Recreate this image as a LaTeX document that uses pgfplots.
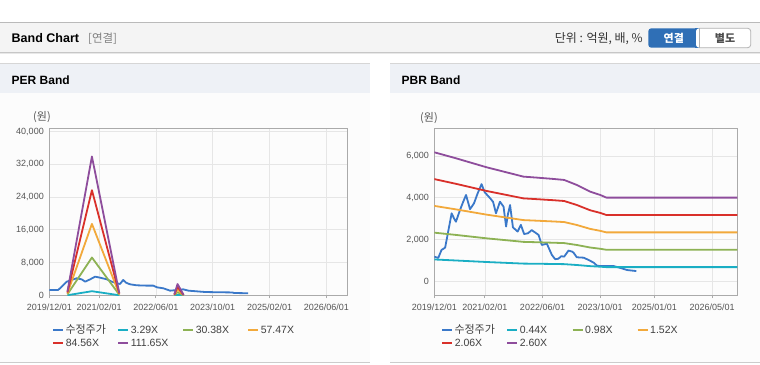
\documentclass[border=0pt]{standalone}
\usepackage{pgfplots}
\pgfplotsset{compat=1.18}
\usepackage{fontspec}
\setmainfont{Liberation Sans}
\newfontfamily\kr{Noto Sans CJK KR}
\definecolor{pricec}{HTML}{3A78C9}
\definecolor{tealc}{HTML}{1AAEC4}
\definecolor{greenc}{HTML}{8DB254}
\definecolor{orangec}{HTML}{F2A93B}
\definecolor{redc}{HTML}{D9302A}
\definecolor{purplec}{HTML}{8E4D9C}
\definecolor{barbg}{HTML}{F4F4F4}
\definecolor{headbg}{HTML}{EEF1F6}
\definecolor{bodybg}{HTML}{FCFCFC}
\definecolor{btnblue}{HTML}{2F6FB6}
\definecolor{txtgray}{HTML}{555555}
\definecolor{gridc}{HTML}{E6E6E6}
\definecolor{axc}{HTML}{AAAAAA}

\pgfplotstableread{
m price
0 1300
2.5 1300
3.5 2100
4.9 3330
6.3 3740
7.7 4150
9.1 3900
10.1 3330
11.5 3900
12.9 4550
14.3 4300
16.2 3900
17.6 3330
19 2930
19.9 2770
20.8 3740
21.6 3080
22.7 2690
24.6 2440
27.4 2360
29.3 2360
30.3 1950
32.1 1710
34 1130
35.5 1250
37.7 1460
39.2 1130
43.9 800
48.6 730
51.5 700
52 560
56 500
}\perprice

\pgfplotstableread{
m a b c d e
5.1 26 243 460 676 893
12 998 9220 17442 25664 33886
19.7 16 152 287 423 558
28 nan nan nan nan nan
35.2 7 61 115 169 223
36.1 81 750 1420 2089 2758
37.8 3 30 57 85 112
}\perbands

\pgfplotstableread{
m price
0 1180
0.5 1150
1.1 1120
2.0 1500
3.0 1610
3.6 2150
4.2 2700
4.8 3250
5.5 3000
6.0 2850
7.1 3400
8.0 3800
8.8 4130
9.9 3450
11.0 3730
12.0 4200
13.1 4650
14.0 4250
14.4 4180
15.5 3970
16.3 3800
17.1 3250
18.2 3810
19.2 3570
19.9 2620
20.4 3200
21.0 3650
21.8 2580
23.1 2380
24.0 2700
24.9 2260
26.0 2300
27.0 2450
28.0 2330
28.9 2220
29.8 1740
31.2 1800
32.6 1260
33.5 1060
34.4 1080
35.2 1200
36.0 1180
36.5 1300
37.2 1470
38.2 1420
38.6 1370
39.5 1150
41.4 1130
42.8 1020
44.2 890
45.1 750
46.0 730
49.7 730
52.0 620
53.4 540
56.0 490
}\pbrprice

\pgfplotstableread{
m a b c d e
0 1045 2327 3608 4890 6172
6 996 2219 3441 4664 5886
14.5 923 2056 3189 4322 5455
24.7 847 1887 2928 3968 5008
28.4 840 1870 2900 3930 4961
33.1 829 1845 2862 3879 4896
36 821 1828 2835 3842 4849
39.5 780 1738 2695 3652 4610
43.2 726 1617 2508 3399 4290
46 699 1557 2415 3273 4131
47.7 678 1509 2341 3172 4004
84 678 1509 2341 3172 4004
}\pbrbands

\pgfplotsset{
  bandaxis/.style={
    scale only axis,
    anchor=south west,
    xmin=0, xmax=84,
    grid=major,
    grid style={draw=gridc, line width=0.6pt},
    axis line style={draw=axc, line width=1pt},
    tick style={draw=axc, line width=0.8pt},
    ytick style={draw=none},
    xtick align=outside,
    major tick length=3pt,
    tick label style={font=\fontsize{9}{10}\selectfont, text=txtgray},
    /pgf/number format/assume math mode=true,
    /pgf/number format/1000 sep={,},
    scaled y ticks=false,
    xtick pos=bottom,
    ytick pos=left,
    yticklabel style={xshift=-2pt},
    xticklabel style={yshift=-2pt},
    unbounded coords=jump,
    every axis plot/.append style={line width=1.8pt, line join=round, no markers},
  }
}

\begin{document}
\begin{tikzpicture}[x=1pt,y=1pt]
\fill[white] (0,0) rectangle (760,364);
% top bar
\fill[barbg] (0,311.3) rectangle (760,341.5);
\draw[color=black!27, line width=0.9pt] (0,341.5) -- (760,341.5);
\draw[color=black!22, line width=0.9pt] (0,311.3) -- (760,311.3);
\draw[color=black!9, line width=1pt] (0,310.3) -- (760,310.3);
\node[anchor=west, inner sep=0pt, font=\bfseries\fontsize{12.5}{14}\selectfont] at (11.5,325.5) {Band Chart};
\node[anchor=west, inner sep=0pt, text=black!50, font=\kr\fontsize{11.5}{13}\selectfont] at (88,325.5) {[연결]};
\node[anchor=east, inner sep=0pt, text=black!80, font=\kr\fontsize{12}{13}\selectfont] at (643,325.5) {단위 : 억원, 배, \%};
\fill[btnblue, rounded corners=3pt] (648.3,316.3) rectangle (703,335.7);
\fill[btnblue] (695,316.3) rectangle (699.3,335.7);
\fill[white, rounded corners=3pt] (696,316.3) rectangle (750.7,335.7);
\fill[white] (699.3,316.3) rectangle (703,335.7);
\draw[black!30, line width=0.8pt, rounded corners=3pt] (699.3,316.3) -- (750.7,316.3) -- (750.7,335.7) -- (699.3,335.7);
\draw[black!30, line width=0.8pt] (699.3,316.3) -- (699.3,335.7);
\node[text=white, font=\kr\bfseries\fontsize{11}{12}\selectfont] at (673.8,326) {연결};
\node[text=black!70, font=\kr\bfseries\fontsize{11}{12}\selectfont] at (725,326) {별도};
% panels
\foreach \xa/\xb in {0/370, 390/760} {
  \fill[bodybg] (\xa,1.5) rectangle (\xb,271.3);
  \fill[headbg] (\xa,271.3) rectangle (\xb,300);
  \draw[black!16, line width=1pt] (\xa,300) -- (\xb,300);
  \draw[black!20, line width=1.2pt] (\xa,1.3) -- (\xb,1.3);
}
\node[anchor=west, inner sep=0pt, font=\bfseries\fontsize{12}{14}\selectfont] at (11.5,284) {PER Band};
\node[anchor=west, inner sep=0pt, font=\bfseries\fontsize{12}{14}\selectfont] at (401.5,284) {PBR Band};
\node[anchor=west, inner sep=0pt, text=txtgray, font=\kr\fontsize{11}{12}\selectfont] at (33,247) {(원)};
\node[anchor=west, inner sep=0pt, text=txtgray, font=\kr\fontsize{11}{12}\selectfont] at (420,246) {(원)};

% PER axis
\begin{axis}[bandaxis, at={(49.3pt,68.7pt)}, width=298.4pt, height=166.3pt,
  ymin=0, ymax=40600,
  ytick={0,8000,16000,24000,32000,40000},
  xtick={0,14,30,46,62,78},
  xticklabels={2019/12/01,2021/02/01,2022/06/01,2023/10/01,2025/02/01,2026/06/01}]
\addplot[pricec] table[x=m,y=price] {\perprice};
\addplot[tealc] table[x=m,y=a] {\perbands};
\addplot[greenc] table[x=m,y=b] {\perbands};
\addplot[orangec] table[x=m,y=c] {\perbands};
\addplot[redc] table[x=m,y=d] {\perbands};
\addplot[purplec] table[x=m,y=e] {\perbands};
\end{axis}

% PBR axis
\begin{axis}[bandaxis, at={(434.3pt,69pt)}, width=303pt, height=166.7pt,
  ymin=-655, ymax=7320,
  ytick={0,2000,4000,6000},
  xtick={0,14,30,46,61,77},
  xticklabels={2019/12/01,2021/02/01,2022/06/01,2023/10/01,2025/01/01,2026/05/01}]
\addplot[pricec] table[x=m,y=price] {\pbrprice};
\addplot[tealc] table[x=m,y=a] {\pbrbands};
\addplot[greenc] table[x=m,y=b] {\pbrbands};
\addplot[orangec] table[x=m,y=c] {\pbrbands};
\addplot[redc] table[x=m,y=d] {\pbrbands};
\addplot[purplec] table[x=m,y=e] {\pbrbands};
\end{axis}

% legends
\def\legfont{\fontsize{10.5}{12}\selectfont}
% left legend
\begin{scope}[shift={(53.3pt,0pt)}]
  \draw[pricec, line width=2.2pt] (0,34) -- (10,34);
  \node[anchor=west, inner sep=0pt, text=black!75, font=\kr\fontsize{11}{12}\selectfont] at (12,34.5) {수정주가};
  \draw[tealc, line width=2.2pt] (65,34) -- (75,34);
  \node[anchor=west, inner sep=0pt, text=black!75, font=\legfont] at (77.3,34) {3.29X};
  \draw[greenc, line width=2.2pt] (130,34) -- (140,34);
  \node[anchor=west, inner sep=0pt, text=black!75, font=\legfont] at (142.3,34) {30.38X};
  \draw[orangec, line width=2.2pt] (195,34) -- (205,34);
  \node[anchor=west, inner sep=0pt, text=black!75, font=\legfont] at (207.3,34) {57.47X};
  \draw[redc, line width=2.2pt] (0,20.7) -- (10,20.7);
  \node[anchor=west, inner sep=0pt, text=black!75, font=\legfont] at (12.3,20.7) {84.56X};
  \draw[purplec, line width=2.2pt] (65,20.7) -- (75,20.7);
  \node[anchor=west, inner sep=0pt, text=black!75, font=\legfont] at (77.3,20.7) {111.65X};
\end{scope}
% right legend
\begin{scope}[shift={(442.3pt,0pt)}]
  \draw[pricec, line width=2.2pt] (0,34) -- (10,34);
  \node[anchor=west, inner sep=0pt, text=black!75, font=\kr\fontsize{11}{12}\selectfont] at (12,34.5) {수정주가};
  \draw[tealc, line width=2.2pt] (65,34) -- (75,34);
  \node[anchor=west, inner sep=0pt, text=black!75, font=\legfont] at (77.3,34) {0.44X};
  \draw[greenc, line width=2.2pt] (130.4,34) -- (140.4,34);
  \node[anchor=west, inner sep=0pt, text=black!75, font=\legfont] at (142.7,34) {0.98X};
  \draw[orangec, line width=2.2pt] (195.4,34) -- (205.4,34);
  \node[anchor=west, inner sep=0pt, text=black!75, font=\legfont] at (207.7,34) {1.52X};
  \draw[redc, line width=2.2pt] (0,20.7) -- (10,20.7);
  \node[anchor=west, inner sep=0pt, text=black!75, font=\legfont] at (12.3,20.7) {2.06X};
  \draw[purplec, line width=2.2pt] (65,20.7) -- (75,20.7);
  \node[anchor=west, inner sep=0pt, text=black!75, font=\legfont] at (77.3,20.7) {2.60X};
\end{scope}
\pgfresetboundingbox
\useasboundingbox (0,0) rectangle (760,364);
\end{tikzpicture}
\end{document}
